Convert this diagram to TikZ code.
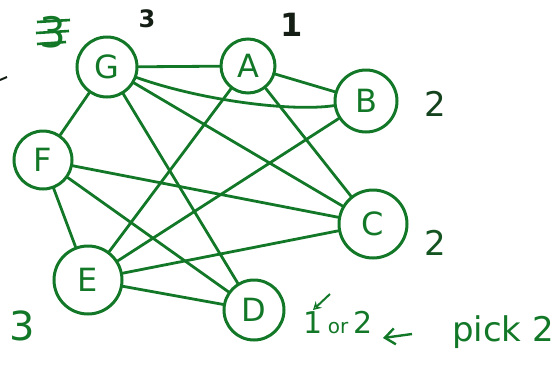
\documentclass[tikz,border=0pt]{standalone}
\usepackage{fontspec}
\usetikzlibrary{arrows.meta}
\setmainfont{DejaVu Sans}
\definecolor{pen}{RGB}{18,120,40}
\definecolor{ink}{RGB}{20,30,20}
\begin{document}
\begin{tikzpicture}[x=1pt,y=-1pt,
  vtx/.style={draw=pen, line width=3pt, circle, text=pen, inner sep=0pt,
     font=\fontsize{32}{32}\selectfont},
  edge/.style={draw=pen, line width=2.8pt, line cap=round},
  lbl/.style={text=pen, inner sep=0pt, font=\fontsize{34}{34}\selectfont},
  blbl/.style={text=ink, inner sep=0pt, font=\bfseries\fontsize{24}{24}\selectfont}]
\useasboundingbox (0,0) rectangle (555,365);
\node[vtx, minimum size=60pt] (G) at (107,67) {G};
\node[vtx, minimum size=54pt] (A) at (248,66) {A};
\node[vtx, minimum size=62pt] (B) at (366,101) {B};
\node[vtx, minimum size=58pt] (F) at (43,160) {F};
\node[vtx, minimum size=68pt] (C) at (373,224) {C};
\node[vtx, minimum size=68pt] (E) at (88,280) {E};
\node[vtx, minimum size=60pt] (D) at (254,310) {D};
% edges
\draw[edge] (G) -- (A);
\draw[edge] (A) -- (B);
\draw[edge] (G) .. controls (200,100) and (290,112) .. (B);
\draw[edge] (G) -- (F);
\draw[edge] (G) -- (C);
\draw[edge] (G) -- (D);
\draw[edge] (A) -- (E);
\draw[edge] (A) -- (C);
\draw[edge] (B) -- (E);
\draw[edge] (F) -- (C);
\draw[edge] (F) -- (D);
\draw[edge] (F) -- (E);
\draw[edge] (E) -- (C);
\draw[edge] (E) -- (D);
% labels
\node[blbl] (l3g) at (147,19) {3};
\node[blbl, font=\bfseries\fontsize{32}{32}\selectfont] (l1a) at (292,25) {1};
\node[lbl, text=ink!60!pen] (l2b) at (435,104) {2};
\node[lbl, text=ink!40!pen] (l2c) at (435,243) {2};
\node[lbl, font=\fontsize{40}{40}\selectfont] (l3e) at (22,326) {3};
\node[lbl, font=\fontsize{30}{30}\selectfont] (lor) at (338,323) {1\,{\fontsize{20}{20}\selectfont or}\,2};
\node[lbl, font=\fontsize{34}{34}\selectfont] (pick) at (503,332) {pick 2};
\node[lbl, font=\fontsize{42}{42}\selectfont] (x3) at (53,32) {3};
\draw[pen, line width=2.6pt] (37,22) -- (70,20);
\draw[pen, line width=2.6pt] (36,33) -- (69,31);
\draw[pen, line width=2.6pt] (37,44) -- (66,42);
% arrows
\coordinate (ta) at (330,294);
\coordinate (tb) at (313,310);
\draw[pen, line width=2pt, -{Stealth[open,length=8pt,width=9pt]}] (ta) -- (tb);
\coordinate (pa) at (412,334);
\coordinate (pb) at (383,338);
\draw[pen, line width=2.4pt, -{Straight Barb[length=10pt,width=16pt]}] (pa) -- (pb);
\coordinate (m1) at (0,80);
\coordinate (m2) at (7,77);
\draw[ink, line width=2pt] (m1) -- (m2);
\end{tikzpicture}
\end{document}
